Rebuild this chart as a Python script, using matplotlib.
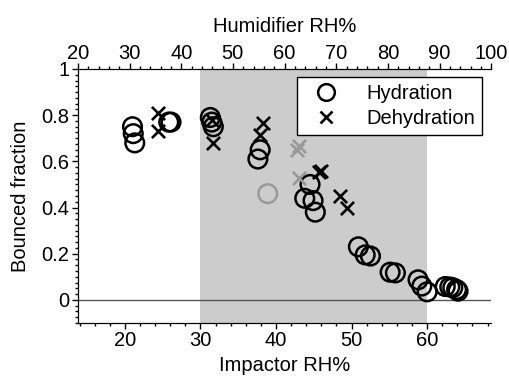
import numpy as np
import matplotlib
matplotlib.use("Agg")
import matplotlib.pyplot as plt
from matplotlib.ticker import MultipleLocator
from matplotlib.lines import Line2D

plt.rcParams['font.family'] = ['Liberation Sans', 'DejaVu Sans']

# hydration (open circles)
hyd_rh = [21.0, 21.1, 21.3, 25.8, 26.1, 31.3, 31.5, 31.7, 37.9, 37.6,
          44.5, 43.8, 44.9, 45.2, 50.9, 51.8, 52.5, 55.1, 55.8,
          58.8, 59.3, 60.0, 62.4, 63.0, 63.4, 63.9, 64.1]
hyd_frac = [0.75, 0.72, 0.68, 0.77, 0.77, 0.79, 0.77, 0.75, 0.65, 0.61,
            0.50, 0.44, 0.43, 0.38, 0.23, 0.195, 0.19, 0.12, 0.117,
            0.087, 0.06, 0.035, 0.058, 0.056, 0.053, 0.045, 0.038]
# dehydration (crosses)
dehyd_rh = [24.4, 24.4, 31.5, 31.7, 38.3, 37.9, 45.7, 45.9, 48.5, 49.4]
dehyd_frac = [0.81, 0.73, 0.78, 0.68, 0.766, 0.714, 0.555, 0.56, 0.45, 0.40]
# grey points
grey_hyd_rh = [38.9]
grey_hyd_frac = [0.46]
grey_dehyd_rh = [43.0, 42.8, 43.0]
grey_dehyd_frac = [0.665, 0.65, 0.528]

FS = 14.5

fig = plt.figure(figsize=(5.09, 3.78), dpi=100)
ax = fig.add_axes([0.153, 0.1455, 0.812, 0.672])

ax.axvspan(30, 60, color='#cccccc', lw=0, zorder=0)
ax.axhline(0, color='#555555', lw=1.0, zorder=1)

ax.scatter(hyd_rh, hyd_frac, s=180, facecolors='none', edgecolors='black',
           linewidths=1.8, zorder=3)
ax.scatter(dehyd_rh, dehyd_frac, s=90, marker='x', color='black',
           linewidths=1.9, zorder=3)
ax.scatter(grey_hyd_rh, grey_hyd_frac, s=180, facecolors='none',
           edgecolors='#999999', linewidths=1.8, zorder=3)
ax.scatter(grey_dehyd_rh, grey_dehyd_frac, s=90, marker='x', color='#999999',
           linewidths=1.9, zorder=3)

ax.set_xlim(13.77, 68.48)
ax.set_ylim(-0.1, 1.0)
ax.set_xticks([20, 30, 40, 50, 60])
ax.set_yticks([0, 0.2, 0.4, 0.6, 0.8, 1])
ax.set_yticklabels(['0', '0.2', '0.4', '0.6', '0.8', '1'])
ax.xaxis.set_minor_locator(MultipleLocator(2))
ax.yaxis.set_minor_locator(MultipleLocator(0.025))
ax.tick_params(which='major', length=4, width=1, labelsize=FS, pad=2)
ax.tick_params(which='minor', length=2, width=1)
ax.spines['right'].set_visible(False)
ax.set_xlabel('Impactor RH%', fontsize=FS, labelpad=4)
ax.set_ylabel('Bounced fraction', fontsize=FS, labelpad=8)

ax2 = ax.twiny()
ax2.set_xlim(20, 100)
ax2.set_xticks(np.arange(20, 101, 10))
ax2.xaxis.set_minor_locator(MultipleLocator(2))
ax2.tick_params(which='major', length=4, width=1, labelsize=FS, pad=0)
ax2.tick_params(which='minor', length=2, width=1)
ax2.spines['right'].set_visible(False)
ax2.set_xlabel('Humidifier RH%', fontsize=FS, labelpad=9)

handles = [
    Line2D([], [], marker='o', ls='none', mfc='none', mec='black', ms=12, mew=1.8),
    Line2D([], [], marker='x', ls='none', color='black', ms=9, mew=1.9),
]
leg = ax.legend(handles, ['Hydration', 'Dehydration'], loc='upper right',
                bbox_to_anchor=(0.978, 0.97), fontsize=FS, fancybox=False,
                framealpha=1, edgecolor='black', handletextpad=0.9,
                borderpad=0.35, labelspacing=0.3, handlelength=2.2,
                borderaxespad=0)
leg.get_frame().set_linewidth(1.0)

fig.savefig('out.png', dpi=100)
